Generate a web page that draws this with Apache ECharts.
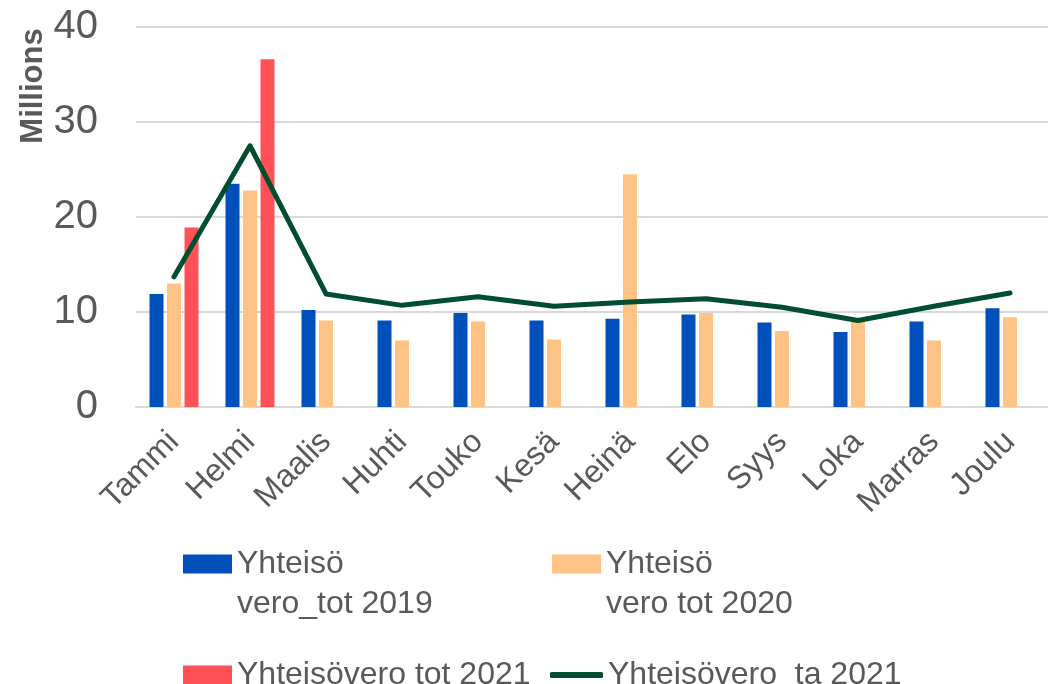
<!DOCTYPE html>
<html>
<head>
<meta charset="utf-8">
<script src="https://cdn.jsdelivr.net/npm/echarts@6/dist/echarts.min.js"></script>
<style>
  html, body { margin: 0; padding: 0; background: #fff; }
  #main { width: 1048px; height: 684px; }
</style>
</head>
<body>
<div id="main"></div>
<script>
// kuukaudet
const months = ['Tammi', 'Helmi', 'Maalis', 'Huhti', 'Touko', 'Kesä', 'Heinä', 'Elo', 'Syys', 'Loka', 'Marras', 'Joulu'];
// arvot miljoonina
const tot2019 = [11.9, 23.5, 10.2, 9.1, 9.9, 9.1, 9.3, 9.75, 8.9, 7.9, 9.0, 10.4];
const tot2020 = [13.0, 22.8, 9.1, 7.0, 9.0, 7.1, 24.5, 9.9, 8.0, 9.1, 7.0, 9.45];
const tot2021 = [18.9, 36.6, null, null, null, null, null, null, null, null, null, null];
const ta2021 = [13.7, 27.5, 11.9, 10.7, 11.6, 10.6, 11.05, 11.4, 10.5, 9.1, 10.6, 12.0];
const yTicks = [0, 10, 20, 30, 40];

const names = ['Yhteisö vero_tot 2019', 'Yhteisö vero tot 2020', 'Yhteisövero tot 2021', 'Yhteisövero  ta 2021'];
const grey = '#595959';
const font = '"Liberation Sans", Arial, sans-serif';

var myChart = echarts.init(document.getElementById('main'));

// kaksirivinen selite: tyhjä rivi alkuun, jotta ensimmäinen rivi osuu ikonin kohdalle
function twoLineLegend(name, left) {
    return {
        data: [{ name: name, icon: 'rect' }],
        left: left,
        top: 504,
        padding: 0,
        itemWidth: 49,
        itemHeight: 19,
        formatter: function (n) {
            return ' \n' + n.replace(' ', '\n');
        },
        textStyle: { color: grey, fontSize: 32, fontFamily: font, lineHeight: 40 }
    };
}

var option = {
    animation: false,
    grid: { left: 136, right: -16, top: 27, bottom: 277 },
    graphic: [{
        type: 'text',
        x: 33,
        y: 86,
        rotation: Math.PI / 2,
        style: { text: 'Millions', font: 'bold 31px ' + font, fill: grey, align: 'center', verticalAlign: 'middle' }
    }],
    legend: [
        twoLineLegend(names[0], 183),
        twoLineLegend(names[1], 552),
        {
            data: [{ name: names[2], icon: 'rect' }],
            left: 183, top: 659, padding: 0, itemWidth: 49, itemHeight: 19,
            textStyle: { color: grey, fontSize: 32, fontFamily: font }
        },
        {
            data: [{ name: names[3], icon: 'roundRect' }],
            left: 550, top: 659, padding: 0, itemWidth: 53, itemHeight: 6,
            textStyle: { color: grey, fontSize: 32, fontFamily: font }
        }
    ],
    xAxis: {
        type: 'category',
        data: months,
        axisLine: { lineStyle: { color: '#d9d9d9', width: 2 } },
        axisTick: { show: false },
        axisLabel: { rotate: 45, color: grey, fontSize: 32, fontFamily: font, margin: 30, interval: 0 }
    },
    yAxis: {
        type: 'value',
        min: yTicks[0],
        max: yTicks[yTicks.length - 1],
        interval: yTicks[1] - yTicks[0],
        axisLine: { show: false },
        axisTick: { show: false },
        splitLine: { lineStyle: { color: '#d9d9d9', width: 2 } },
        axisLabel: { color: grey, fontSize: 40, fontFamily: font, margin: 38 }
    },
    series: [
        { name: names[0], type: 'bar', data: tot2019, barWidth: 14, barGap: '25%', itemStyle: { color: '#0050bb' } },
        { name: names[1], type: 'bar', data: tot2020, barWidth: 14, barGap: '25%', itemStyle: { color: '#ffc386' } },
        { name: names[2], type: 'bar', data: tot2021, barWidth: 14, barGap: '25%', itemStyle: { color: '#ff5157' } },
        {
            name: names[3], type: 'line', data: ta2021, symbol: 'none', z: 5,
            itemStyle: { color: '#004d2f' },
            lineStyle: { color: '#004d2f', width: 5, cap: 'round', join: 'round' }
        }
    ]
};

myChart.setOption(option);
</script>
</body>
</html>
